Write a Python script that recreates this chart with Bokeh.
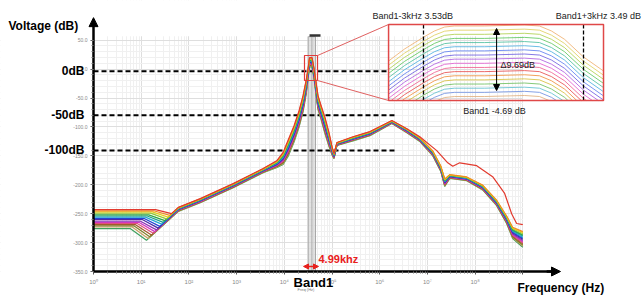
import numpy as np
from bokeh.plotting import figure
from bokeh.models import (Range1d, FixedTicker, NumeralTickFormatter, BoxAnnotation,
                          Arrow, NormalHead, Label, LinearScale)
from bokeh.embed import file_html
from bokeh.resources import INLINE

# ---------------- data ----------------
curve_colors = ["#e23a2e", "#f08a24", "#e6d01e", "#96c832", "#2fa544", "#1fa08e",
                "#22a6d6", "#2446d4", "#4a2aa6", "#8a32b6", "#d236c2", "#e0507e",
                "#a25a2c", "#80802a", "#c8a062", "#3fa05e"]
curve_rank = [0.0, 0.07, 0.13, 0.2, 0.27, 0.33, 0.4, 0.47, 0.53, 0.6, 0.67, 0.73, 0.8, 0.87, 0.93, 1.0]

# low-frequency part of every curve
lf_plateau_db = [-243, -245, -247, -249, -252, -254, -256, -258, -260, -263, -265, -267, -269, -271, -273, -276]
lf_knee_hz = [20.0, 18.4, 17.0, 15.7, 14.4, 13.4, 12.3, 11.3, 10.5, 9.67, 8.91, 8.24, 7.60, 7.00, 6.48, 5.97]
lf_notch_hz = [43.2, 39.8, 36.8, 33.9, 31.2, 28.9, 26.7, 24.5, 22.7, 20.9, 19.3, 17.9, 16.4, 15.1, 14.0, 12.9]
lf_notch_db = [-250, -253, -256, -259, -262, -265, -268, -272, -275, -278, -281, -284, -287, -290, -293, -296]

# common path of the bundle (upper edge) and its spread
path_hz = [60, 173, 849, 3600, 7060, 9440, 12000, 16000, 20400, 24700, 28600, 31500, 33800,
           38200, 42000, 46300, 50900, 58900, 71400, 86500, 1.0e5, 1.10e5, 1.27e5, 2.75e5,
           6.24e5, 1.80e6, 3.71e6, 6.93e6, 1.30e7, 1.91e7, 2.31e7, 2.94e7, 6.67e7, 1.44e8,
           2.83e8, 4.58e8, 6.12e8, 1.0e9]
path_db = [-239, -224, -198, -172, -158, -144, -123, -98, -72, -46, -20, 1, 20,
           20, 1, -23, -46, -63, -84, -110, -134, -146, -127, -117,
           -108, -89, -103, -118, -141, -167, -189, -182, -186, -200,
           -226, -253, -272, -279]
path_spread_db = [7, 7, 7, 7, 12, 21, 28, 28, 28, 28, 24, 17, 16,
                  16, 17, 21, 24, 24, 28, 24, 14, 9, 5, 7,
                  7, 5, 7, 7, 9, 10, 14, 7, 7, 9,
                  10, 14, 21, 29]
# the upper (red) curve above 7 MHz
red_tail_hz = [6.93e6, 1.57e7, 2.67e7, 3.40e7, 4.76e7, 1.08e8, 2.33e8, 4.16e8, 5.83e8, 7.42e8, 1.0e9]
red_tail_db = [-117, -141, -162, -168, -162, -167, -186, -215, -250, -267, -269]

# zoomed inset (kHz offset from Band1 centre, dB)
inset_colors = ["#f0b070", "#e0d060", "#b0d050", "#60c860", "#50c0a0", "#50b0e0",
                "#6080f0", "#7060e0", "#b060e0", "#e060d0", "#f06090", "#e85050",
                "#f09040", "#d8c040", "#70c060", "#60c0d0", "#7090e0", "#e0b080"]
inset_khz = [-4.31, -3.71, -2.99, -2.59, -2.21, -1.84, -0.71, 0.79, 1.35, 1.80, 2.29, 3.00, 3.75]
inset_shape_db = [-5.47, -3.59, -1.72, -0.78, -0.16, 0.0, 0.0, 0.16, 0.0, -0.78, -2.08, -4.84, -7.03]
inset_level_db = [5.39, 4.74, 4.09, 3.45, 2.80, 2.15, 1.50, 0.85, 0.21, -0.44, -1.09, -1.74,
                  -2.39, -3.03, -3.68, -4.33, -4.98, -5.63]

# reference lines
ref_labels = ["0dB", "-50dB", "-100dB"]
ref_db = [-3.6, -79.7, -140.7]
ref_end_hz = [1.46e6, 2.36e6, 2.36e6]

band_hz = [31.7e3, 45.1e3]
x_tick_hz = [1, 10, 100, 1000, 10000, 100000, 1000000, 10000000, 100000000, 1000000000]
x_tick_text = ["10⁰", "10¹", "10²", "10³", "10⁴", "10⁵", "10⁶", "10⁷", "10⁸", ""]
y_ticks = [50, 0, -50, -100, -150, -200, -250, -300, -350]

# ---------------- figure ----------------
X0, X1 = 10 ** -1.9497, 10 ** 11.551
Y0, Y1 = -394.95, 118.65
IX0, IX1 = -18.862, 5.287
IY0, IY1 = -37.04, 9.376

p = figure(width=644, height=297, x_axis_type="log",
           x_range=Range1d(X0, X1), y_range=Range1d(Y0, Y1),
           output_backend="svg", toolbar_location=None,
           min_border_left=0, min_border_right=0, min_border_top=0, min_border_bottom=0)
p.extra_x_ranges = {"ix": Range1d(IX0, IX1)}
p.extra_y_ranges = {"iy": Range1d(IY0, IY1)}
p.extra_x_scales = {"ix": LinearScale()}
p.extra_y_scales = {"iy": LinearScale()}
p.outline_line_color = None
p.background_fill_color = "white"
p.border_fill_color = "white"

FONT = "Liberation Sans"

xa = p.xaxis[0]
xa.fixed_location = -350
xa.ticker = FixedTicker(ticks=x_tick_hz,
                        minor_ticks=[m * 10 ** d for d in range(9) for m in range(2, 10)])
xa.major_label_overrides = {t: s for t, s in zip(x_tick_hz, x_tick_text)}
xa.bounds = (1, 10 ** 9.7)
ya = p.yaxis[0]
ya.fixed_location = 1
ya.ticker = FixedTicker(ticks=y_ticks, minor_ticks=list(range(-350, 51, 10)))
ya.formatter = NumeralTickFormatter(format="0.0")
ya.bounds = (-350, 86)
for ax in (xa, ya):
    ax.axis_line_width = 2.5
    ax.axis_line_color = "black"
    ax.major_tick_in = 0
    ax.major_tick_out = 3
    ax.minor_tick_in = 0
    ax.minor_tick_out = 2
    ax.major_tick_line_color = "#555555"
    ax.minor_tick_line_color = "#777777"
    ax.major_label_text_color = "#8a8a8a"
    ax.major_label_text_font = FONT
xa.major_label_text_font_size = "6px"
xa.major_label_standoff = 4
ya.major_label_text_font_size = "5px"
ya.major_label_standoff = 3

for g in (p.xgrid[0], p.ygrid[0]):
    g.grid_line_color = "#dedede"
    g.minor_grid_line_color = "#f0f0f0"

# keep the grid inside the plotting area
for box in (dict(left=1e9), dict(bottom=57), dict(right=1), dict(top=-350)):
    p.add_layout(BoxAnnotation(fill_color="white", fill_alpha=1, line_alpha=0,
                               level="underlay", **box))

# Band1 column
p.quad(left=band_hz[0], right=band_hz[1], bottom=-350, top=56,
       fill_color="#cfcfcf", fill_alpha=0.6, line_color="#a8a8a8", line_width=1)
p.line([np.sqrt(band_hz[0] * band_hz[1])] * 2, [-350, 56], color="#b0b0b0", line_width=1)
p.line([33.8e3, 57.4e3], [58.1, 58.1], color="#333333", line_width=2.5)

# dashed reference lines
p.segment(x0=[1.0] * 3, x1=ref_end_hz, y0=ref_db, y1=ref_db, color="black",
          line_width=2, line_dash="5 3")

# curves
for i in reversed(range(len(curve_colors))):
    r = curve_rank[i]
    xs = [1.0, lf_knee_hz[i], lf_notch_hz[i]]
    ys = [lf_plateau_db[i], lf_plateau_db[i], lf_notch_db[i]]
    for f, d, s in zip(path_hz, path_db, path_spread_db):
        if i == 0 and f >= red_tail_hz[0]:
            break
        xs.append(f)
        ys.append(d - r * s)
    if i == 0:
        xs += red_tail_hz
        ys += red_tail_db
    p.line(xs, ys, color=curve_colors[i], line_width=1.2)

# small zoom box around the peak
zb_l, zb_r, zb_b, zb_t = 26.5e3, 49.7e3, -19.7, 23.5
p.quad(left=zb_l, right=zb_r, bottom=zb_b, top=zb_t, fill_alpha=0,
       line_color="#e03a3a", line_width=1.2)

# inset
in_l, in_r, in_b, in_t = -4.31, 3.75, -6.25, 5.63


def inset_to_main(kx, dy):
    fx = (kx - IX0) / (IX1 - IX0)
    fy = (dy - IY0) / (IY1 - IY0)
    return 10 ** (np.log10(X0) + fx * (np.log10(X1) - np.log10(X0))), Y0 + fy * (Y1 - Y0)


c1 = inset_to_main(in_l, in_t)
c2 = inset_to_main(in_l, in_b)
p.segment(x0=[zb_r, zb_r], y0=[zb_t, zb_b], x1=[c1[0], c2[0]], y1=[c1[1], c2[1]],
          color="#e06060", line_width=1)


def clip_below(xs, ys, floor):
    ox, oy = [], []
    for k in range(len(xs)):
        x, y = xs[k], ys[k]
        if k > 0:
            x0, y0 = xs[k - 1], ys[k - 1]
            if (y0 < floor) != (y < floor):
                t = (floor - y0) / (y - y0)
                ox.append(x0 + t * (x - x0))
                oy.append(floor)
                if y < floor:
                    ox.append(np.nan)
                    oy.append(np.nan)
        if y >= floor:
            ox.append(x)
            oy.append(y)
    return ox, oy


for j, lvl in enumerate(inset_level_db):
    ys = [lvl + s for s in inset_shape_db]
    cx, cy = clip_below(inset_khz, ys, in_b)
    p.line(cx, cy, color=inset_colors[j], line_width=1, line_alpha=0.85,
           x_range_name="ix", y_range_name="iy")

p.segment(x0=[-3, 3], x1=[-3, 3], y0=[in_b, in_b], y1=[in_t, in_t], color="black",
          line_width=1.3, line_dash="4 2", x_range_name="ix", y_range_name="iy")
p.quad(left=in_l, right=in_r, bottom=in_b, top=in_t, fill_alpha=0, line_color="#e04848",
       line_width=1.5, x_range_name="ix", y_range_name="iy")
p.add_layout(Arrow(x_start=-0.26, y_start=-4.69, x_end=-0.26, y_end=5.0,
                   start=NormalHead(size=6, fill_color="black", line_color="black"),
                   end=NormalHead(size=6, fill_color="black", line_color="black"),
                   line_width=1, line_color="black", x_range_name="ix", y_range_name="iy"))

# axis arrow heads
p.add_layout(Arrow(x_start=1, y_start=80, x_end=1, y_end=89,
                   end=NormalHead(size=9, fill_color="black", line_color="black"),
                   start=None, line_width=2.5, line_color="black"))
p.add_layout(Arrow(x_start=10 ** 9.5, y_start=-350, x_end=10 ** 9.79, y_end=-350,
                   end=NormalHead(size=9, fill_color="black", line_color="black"),
                   start=None, line_width=2.5, line_color="black"))
# 4.99 kHz arrow
p.add_layout(Arrow(x_start=25.3e3, y_start=-341.3, x_end=52.1e3, y_end=-341.3,
                   start=NormalHead(size=5, fill_color="#e8201c", line_color="#e8201c"),
                   end=NormalHead(size=5, fill_color="#e8201c", line_color="#e8201c"),
                   line_width=1.5, line_color="#e8201c"))


def lab(x, y, text, size, bold=True, align="left", color="black", **kw):
    p.add_layout(Label(x=x, y=y, text=text, text_font=FONT, text_font_size=size,
                       text_font_style="bold" if bold else "normal", text_align=align,
                       text_baseline="middle", text_color=color, **kw))


lab(0.0165, 75.4, "Voltage (dB)", "12px")
for t, d in zip(ref_labels, ref_db):
    lab(0.648, d, t, "12px", align="right")
lab(7.74e8, -377.7, "Frequency (Hz)", "12px")
lab(15.6e3, -368.5, "Band1", "13px")
lab(18.9e3, -381.0, "Freq (Hz)", "4px", bold=False, color="#777777")
lab(52.1e3, -327.6, "4.99khz", "11px", color="#e8201c")

ik = dict(x_range_name="ix", y_range_name="iy")
lab(-3.36, 7.03, "Band1-3kHz  3.53dB", "9px", bold=False, align="center", color="#222222", **ik)
lab(5.25, 7.03, "Band1+3kHz  3.49 dB", "9px", bold=False, align="right", color="#222222", **ik)
lab(-0.34, -7.82, "Band1 -4.69 dB", "9px", bold=False, align="center", color="#222222", **ik)
lab(-0.11, -0.63, "Δ9.69dB", "9px", bold=False, color="#222222", **ik)

open("out.html", "w").write(file_html(p, INLINE))
